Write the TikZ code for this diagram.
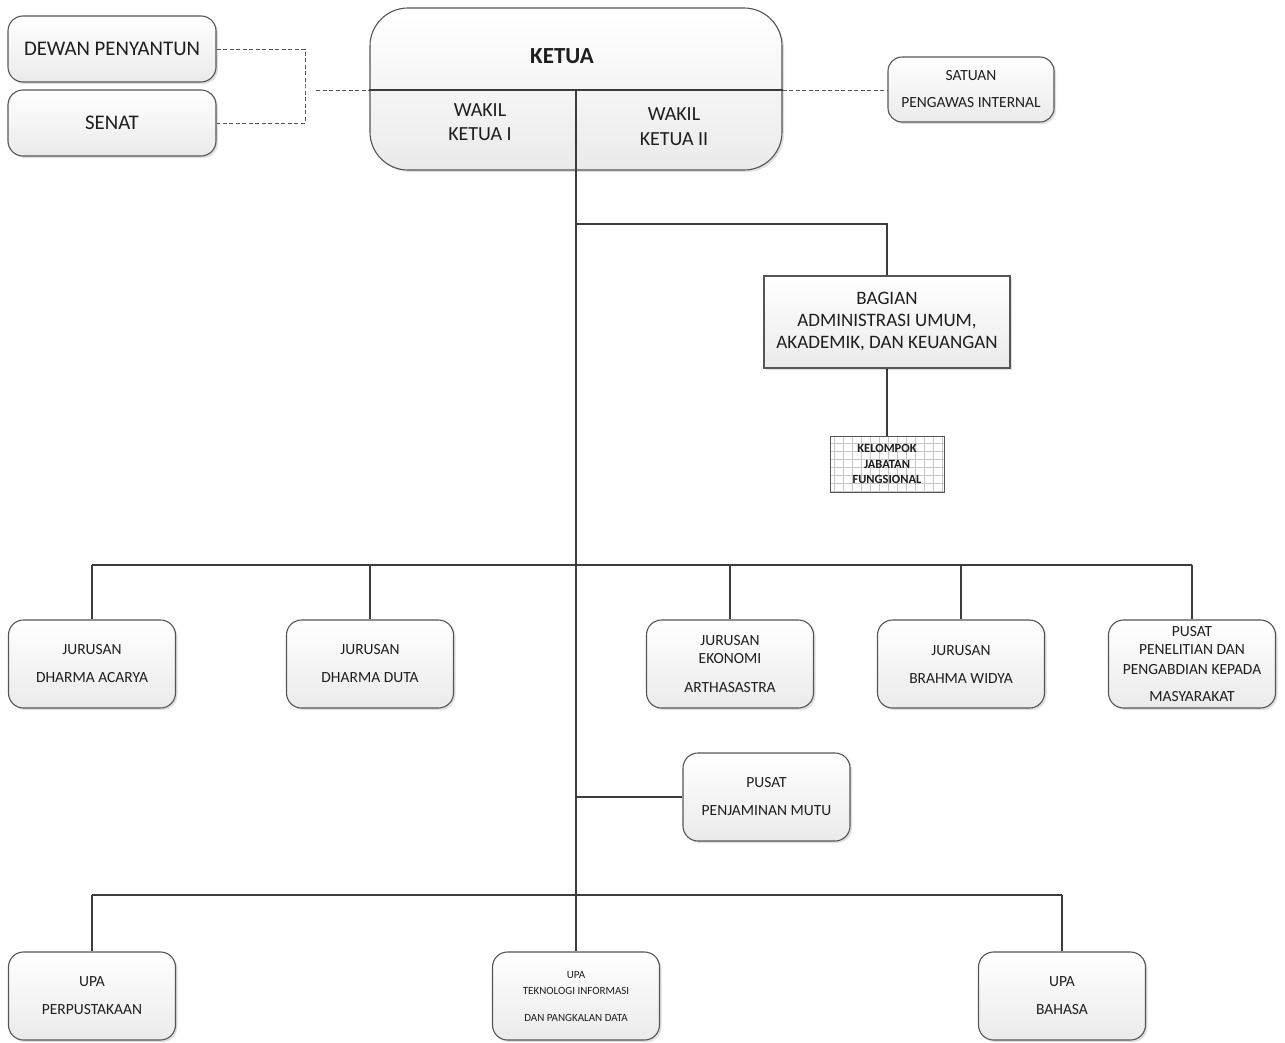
\documentclass[tikz,border=0pt]{standalone}
\usepackage{xcolor}
\usepackage{fontspec}
\setmainfont{Carlito}
\usepackage{tikz}
\usetikzlibrary{shadows}

\definecolor{edge}{HTML}{555555}
\definecolor{wire}{HTML}{3C3C3C}
\definecolor{ink}{HTML}{1E1E1E}

\begin{document}
\begin{tikzpicture}[x=1pt,y=-1pt,
  box/.style={draw=edge, line width=1.1pt, top color=white, bottom color=gray!16,
    drop shadow={shadow xshift=2pt, shadow yshift=-2pt, opacity=0.25},
    align=center, text=ink, inner sep=2pt},
  unit/.style={box, rounded corners=15pt, minimum width=167pt, minimum height=88pt,
    font=\fontsize{15.5}{28}\selectfont},
  wire/.style={draw=wire, line width=1.1pt},
  dashline/.style={draw=edge, line width=0.9pt, dash pattern=on 4pt off 2.5pt}]
\useasboundingbox (0,0) rectangle (1285,1042);

% top level
\node[box, rounded corners=15pt, minimum width=208pt, minimum height=66pt,
  font=\fontsize{20.8}{24}\selectfont] (dewan) at (112,49) {DEWAN PENYANTUN};
\node[box, rounded corners=15pt, minimum width=208pt, minimum height=66pt,
  font=\fontsize{20.8}{24}\selectfont] (senat) at (112,123) {SENAT};
\node[box, rounded corners=38pt, minimum width=412pt, minimum height=162pt] (ketua) at (576,89) {};
\node[font=\fontsize{23}{26}\selectfont\bfseries, text=ink] (ketuatxt) at (562,56) {KETUA};
\node[font=\fontsize{20}{24}\selectfont, align=center, text=ink] (wakil1) at (480,122) {WAKIL\\KETUA I};
\node[font=\fontsize{20}{25}\selectfont, align=center, text=ink] (wakil2) at (674,127) {WAKIL\\KETUA II};
\node[box, rounded corners=14pt, minimum width=166pt, minimum height=65pt,
  font=\fontsize{15.5}{27}\selectfont] (satuan) at (971,89.5) {SATUAN\\PENGAWAS INTERNAL};

\coordinate (joinL) at (305,87);
\coordinate (dashL) at (316,90);
\coordinate (top) at (576,90);
\coordinate (bottom) at (576,895);
\draw[dashline] (dewan.east) -| (joinL) |- (senat.east);
\draw[dashline] (dashL) -- (ketua.west |- dashL);
\draw[wire] (ketua.west |- dashL) -- (ketua.east |- dashL);
\draw[dashline] (ketua.east |- dashL) -- (satuan.west |- dashL);

% administrasi
\node[box, minimum width=246pt, minimum height=92pt,
  font=\fontsize{19}{22}\selectfont] (bagian) at (887,322) {BAGIAN\\ADMINISTRASI UMUM,\\AKADEMIK, DAN KEUANGAN};
\node[draw=edge, line width=0.8pt, fill=white, minimum width=114pt, minimum height=56pt,
  align=center, text=ink, font=\fontsize{12.5}{15.5}\selectfont\bfseries,
  path picture={\draw[gray!45, line width=0.5pt, xstep=9pt, ystep=8pt]
    (path picture bounding box.south west) grid (path picture bounding box.north east);}]
  (kelompok) at (887,464) {KELOMPOK\\JABATAN\\FUNGSIONAL};

% jurusan
\node[unit] (dacarya) at (92,664) {JURUSAN\\DHARMA ACARYA};
\node[unit] (dduta) at (370,664) {JURUSAN\\DHARMA DUTA};
\node[unit] (ekonomi) at (730,664) {JURUSAN\\[-10pt]EKONOMI\\[1pt]ARTHASASTRA};
\node[unit] (bwidya) at (961,664) {JURUSAN\\BRAHMA WIDYA};
\node[unit] (ppm) at (1192,664) {PUSAT\\[-10pt]PENELITIAN DAN\\[-8pt]PENGABDIAN KEPADA\\[-1pt]MASYARAKAT};
\node[unit] (mutu) at (766.5,797) {PUSAT\\PENJAMINAN MUTU};

% upa
\node[unit] (pustaka) at (92,996) {UPA\\PERPUSTAKAAN};
\node[unit, font=\fontsize{11}{27}\selectfont] (tik) at (576,996) {UPA\\[-11pt]TEKNOLOGI INFORMASI\\DAN PANGKALAN DATA};
\node[unit] (bahasa) at (1062,996) {UPA\\BAHASA};

% connectors
\coordinate (br1) at (576,224);
\coordinate (row1) at (576,565);
\draw[wire] (top) -- (bottom);
\draw[wire] (br1) -| (bagian.north);
\draw[wire] (bagian.south) -- (kelompok.north);
\draw[wire] (dacarya.north |- row1) -- (ppm.north |- row1);
\foreach \n in {dacarya,dduta,ekonomi,bwidya,ppm}
  \draw[wire] (\n.north |- row1) -- (\n.north);
\draw[wire] (mutu.west -| top) -- (mutu.west);
\draw[wire] (pustaka.north |- bottom) -- (bahasa.north |- bottom);
\foreach \n in {pustaka,tik,bahasa}
  \draw[wire] (\n.north |- bottom) -- (\n.north);
\end{tikzpicture}
\end{document}
